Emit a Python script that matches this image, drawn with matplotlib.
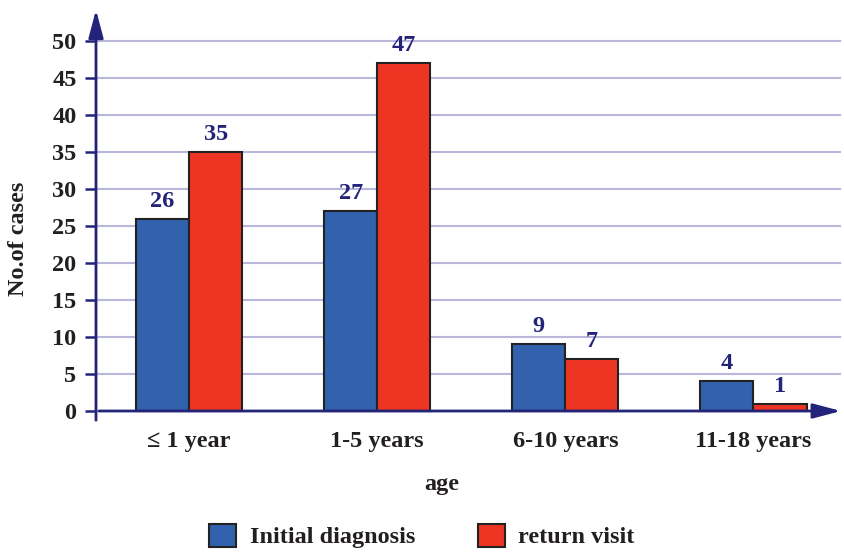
import matplotlib.pyplot as plt
from matplotlib.patches import Patch

categories = ["\u2264 1 year", "1-5 years", "6-10 years", "11-18 years"]
initial = [26, 27, 9, 4]
returns = [35, 47, 7, 1]
yticks = [0, 5, 10, 15, 20, 25, 30, 35, 40, 45, 50]

BLUE = "#3262ae"
RED = "#ee3524"
NAVY = "#24237a"
GRID = "#b9b8dc"
TXT = "#231f20"
FS = 17.5
plt.rcParams["font.family"] = ["Liberation Serif", "DejaVu Serif"]
plt.rcParams["font.weight"] = "bold"

W, H = 844, 552
fig = plt.figure(figsize=(W / 100, H / 100), dpi=100)
# axes box in pixels: left 96, right 840, top 10, bottom 423
ax = fig.add_axes([96 / W, (H - 423) / H, (840 - 96) / W, (423 - 10) / H])
ax.set_xlim(-0.495, 3.46)
ax.set_ylim(-1.62, 54.19)
for s in ax.spines.values():
    s.set_visible(False)

w = 0.282
x = list(range(len(categories)))
for yv in yticks[1:]:
    ax.plot([-0.495, 3.46], [yv, yv], color=GRID, lw=1.5, zorder=0, clip_on=False)

b1 = ax.bar([i - w / 2 for i in x], initial, w, color=BLUE, edgecolor="#222222", lw=1.5, zorder=3)
b2 = ax.bar([i + w / 2 for i in x], returns, w, color=RED, edgecolor="#222222", lw=1.5, zorder=3)

for bars, vals in ((b1, initial), (b2, returns)):
    for b, v in zip(bars, vals):
        ax.annotate(str(v), (b.get_x() + b.get_width() / 2, v), xytext=(0, 5),
                    textcoords="offset points", ha="center", va="bottom",
                    color=NAVY, fontsize=FS, fontweight="bold")

# axes with arrows
arrow = dict(arrowstyle="-|>,head_length=1.7,head_width=0.45", color=NAVY, lw=2)
ax.annotate("", xy=(-0.495, 54.6), xytext=(-0.495, -1.62),
            arrowprops=arrow, annotation_clip=False, zorder=5)
ax.annotate("", xy=(3.48, 0), xytext=(-0.495, 0),
            arrowprops=arrow, annotation_clip=False, zorder=5)

ax.set_yticks(yticks)
ax.set_yticklabels([str(v) for v in yticks], fontsize=FS, fontweight="bold", color=TXT)
ax.tick_params(axis="y", length=8, width=1.8, color=NAVY, pad=6)
ax.set_xticks(x)
ax.set_xticklabels(categories, fontsize=FS, fontweight="bold", color=TXT)
ax.tick_params(axis="x", length=0, pad=6)

ax.set_xlabel("age", fontsize=FS, fontweight="bold", color=TXT)
ax.xaxis.set_label_coords((442 - 96) / 744, -(474 - 423) / 413)
ax.set_ylabel("No.of cases", fontsize=FS, fontweight="bold", color=TXT)
ax.yaxis.set_label_coords((29 - 96) / 744, (423 - 239) / 413)

handles = [Patch(facecolor=BLUE, edgecolor="#222222", lw=1.5, label="Initial diagnosis"),
           Patch(facecolor=RED, edgecolor="#222222", lw=1.5, label="return visit")]
fig.legend(handles=handles, loc="center", bbox_to_anchor=(0.5, (H - 536) / H), ncol=2,
           frameon=False, handlelength=1.1, handleheight=1.1,
           columnspacing=2.6, handletextpad=0.55,
           prop={"family": ["Liberation Serif"], "weight": "bold", "size": FS})
for t in fig.legends[0].get_texts():
    t.set_color(TXT)

fig.savefig("out.png", dpi=100)
